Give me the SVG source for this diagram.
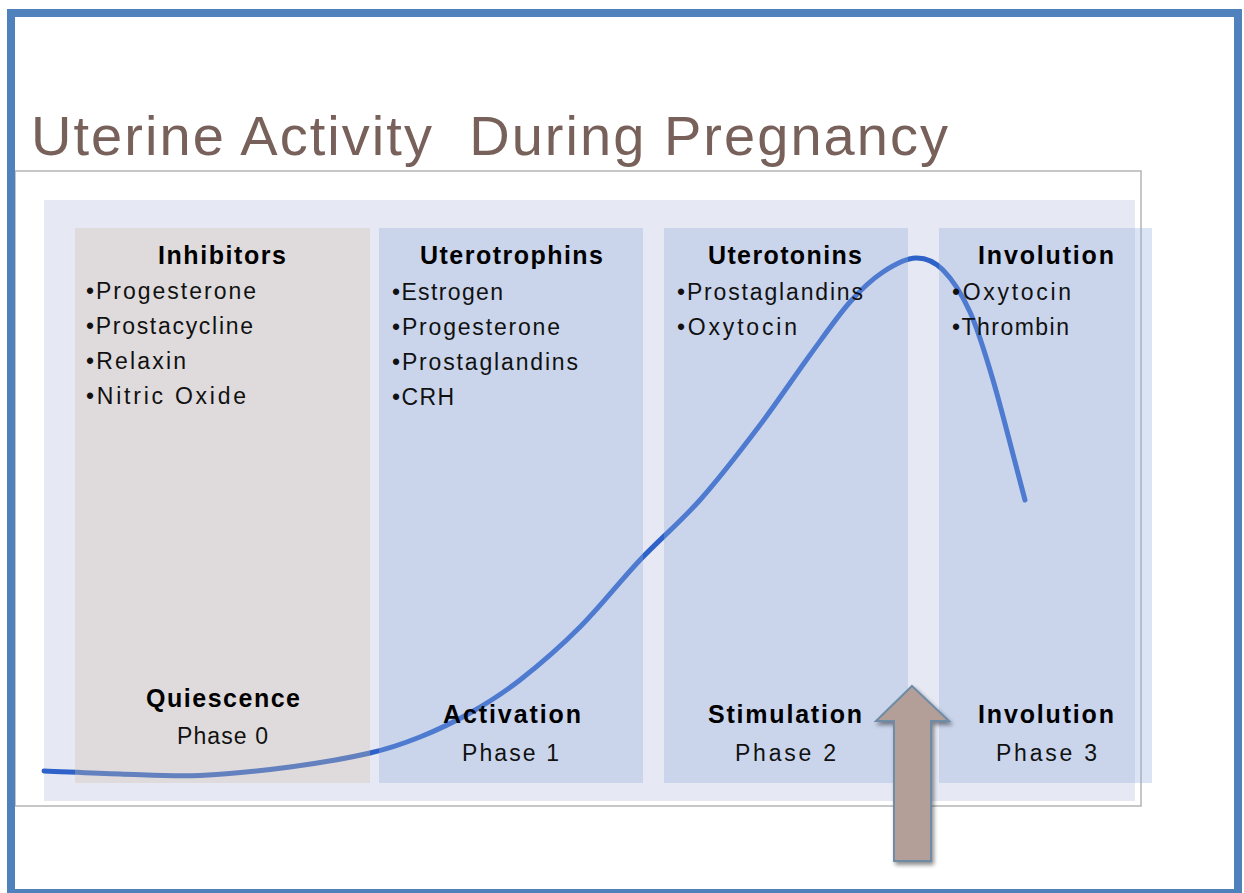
<svg xmlns="http://www.w3.org/2000/svg" width="1244" height="893" viewBox="0 0 1244 893">
<style>
  .title { font-family: "Liberation Sans", Arial, sans-serif; font-size: 56px; fill: #77615a; white-space: pre; }
  .hdr { font-family: "Liberation Sans", Arial, sans-serif; font-size: 25px; font-weight: bold; fill: #000; }
  .item { font-family: "Liberation Sans", Arial, sans-serif; font-size: 23px; fill: #111; }
  .phase { font-family: "Liberation Sans", Arial, sans-serif; font-size: 23px; fill: #111; }
  .colb { fill: rgb(146,174,223); fill-opacity: 0.33; }
  .colg { fill: rgb(210,192,172); fill-opacity: 0.33; }
</style>
<defs>
  <filter id="shadow" x="-30%" y="-10%" width="160%" height="130%">
    <feGaussianBlur in="SourceAlpha" stdDeviation="2"/>
    <feOffset dx="2" dy="3" result="b"/>
    <feComponentTransfer><feFuncA type="linear" slope="0.45"/></feComponentTransfer>
    <feMerge><feMergeNode/><feMergeNode in="SourceGraphic"/></feMerge>
  </filter>
</defs>
<rect x="0" y="0" width="1244" height="893" fill="#ffffff"/>
<g id="title">
  <text class="title" x="31" y="155" textLength="917">Uterine Activity  During Pregnancy</text>
</g>
<g id="frame">
  <rect x="15" y="171" width="1126" height="635" fill="#ffffff" stroke="#b4b4b4" stroke-width="1.5"/>
  <rect x="44" y="200" width="1091" height="601" fill="#e6e9f3"/>
</g>
<g id="connectors">
  <path id="activity-curve" d="M44,771 C69.3,772 94,773.25 120,774 C146,774.75 171.7,776.7 200,775.5 C228.3,774.3 261.7,770.75 290,767 C318.3,763.25 348.3,758 370,753 C391.7,748 403.3,743.7 420,737 C436.7,730.3 453.3,722.5 470,713 C486.7,703.5 501.7,694.3 520,680 C538.3,665.7 560,647 580,627 C600,607 620,581.2 640,560 C660,538.8 680,522.5 700,500 C720,477.5 741.7,449.2 760,425 C778.3,400.8 795,375.5 810,355 C825,334.5 837.8,315.8 850,302 C862.2,288.2 872,279.3 883,272 C894,264.7 906,258.3 916,258 C926,257.7 934,261 943,270 C952,279 961.7,293.7 970,312 C978.3,330.3 983.8,348.7 993,380 C1002.2,411.3 1014.3,460 1025,500" fill="none" stroke="#2e62c8" stroke-width="5" stroke-linecap="round"/>
</g>
<g id="phase0">
  <rect class="colg" x="75" y="228" width="295" height="555"/>
  <text class="hdr" x="158" y="264" textLength="128">Inhibitors</text>
  <text class="item" x="86" y="299" textLength="170">•Progesterone</text>
  <text class="item" x="86" y="334" textLength="167">•Prostacycline</text>
  <text class="item" x="86" y="369" textLength="100">•Relaxin</text>
  <text class="item" x="86" y="404" textLength="160">•Nitric Oxide</text>
  <text class="hdr" x="146" y="707" textLength="154">Quiescence</text>
  <text class="phase" x="177" y="744" textLength="91">Phase 0</text>
</g>
<g id="phase1">
  <rect class="colb" x="379" y="228" width="264" height="555"/>
  <text class="hdr" x="420" y="264" textLength="183">Uterotrophins</text>
  <text class="item" x="392" y="300" textLength="111">•Estrogen</text>
  <text class="item" x="392" y="335" textLength="168">•Progesterone</text>
  <text class="item" x="392" y="370" textLength="186">•Prostaglandins</text>
  <text class="item" x="392" y="405" textLength="62">•CRH</text>
  <text class="hdr" x="443" y="723" textLength="138">Activation</text>
  <text class="phase" x="462" y="761" textLength="97">Phase 1</text>
</g>
<g id="phase2">
  <rect class="colb" x="664" y="228" width="244" height="555"/>
  <text class="hdr" x="708" y="264" textLength="154">Uterotonins</text>
  <text class="item" x="677" y="300" textLength="186">•Prostaglandins</text>
  <text class="item" x="677" y="335" textLength="120">•Oxytocin</text>
  <text class="hdr" x="708" y="723" textLength="154">Stimulation</text>
  <text class="phase" x="735" y="761" textLength="101">Phase 2</text>
</g>
<g id="phase3">
  <rect class="colb" x="939" y="228" width="213" height="555"/>
  <text class="hdr" x="978" y="264" textLength="136">Involution</text>
  <text class="item" x="952" y="300" textLength="119">•Oxytocin</text>
  <text class="item" x="952" y="335" textLength="117">•Thrombin</text>
  <text class="hdr" x="978" y="723" textLength="136">Involution</text>
  <text class="phase" x="996" y="761" textLength="101">Phase 3</text>
</g>
<g id="arrow">
  <polygon points="912,686 949,721 931,721 931,861 894,861 894,721 876,721" fill="#b39f98" stroke="#6e8ca6" stroke-width="2" stroke-linejoin="miter" filter="url(#shadow)"/>
</g>
<g id="border">
  <rect x="11" y="13" width="1227" height="880" fill="none" stroke="#4f81bd" stroke-width="8"/>
</g>
</svg>
